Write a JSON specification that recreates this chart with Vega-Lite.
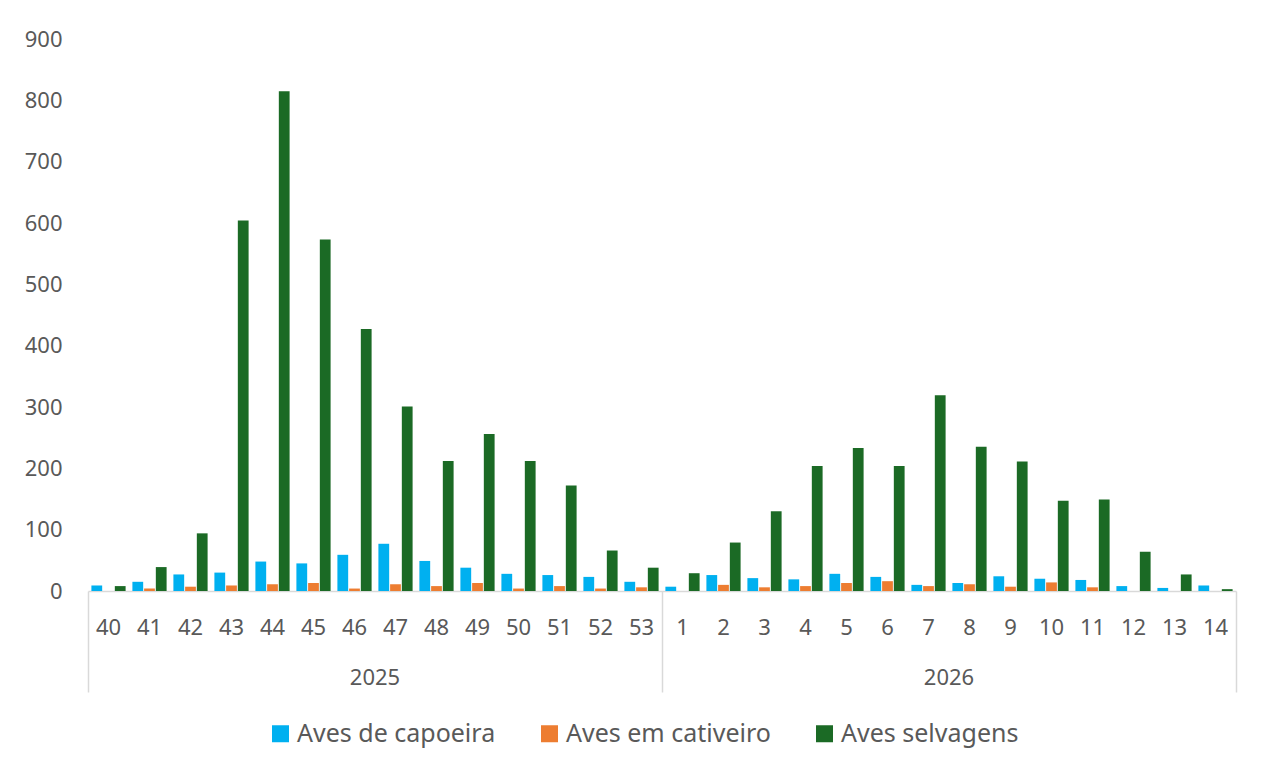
{
  "$schema": "https://vega.github.io/schema/vega-lite/v6.json",
  "width": 1148,
  "height": 552,
  "autosize": {"type": "none"},
  "padding": {"left": 88, "top": 39, "right": 25, "bottom": 176},
  "background": "white",
  "config": {
    "view": {"stroke": null},
    "font": "Noto Sans",
    "axis": {"labelFont": "Noto Sans", "labelColor": "#595959", "labelFontSize": 22, "grid": false, "title": null, "labelAngle": 0},
    "legend": {"labelFont": "Noto Sans"}
  },
  "data": {
    "values": [
      {"k": "2025-40", "Aves de capoeira": 9, "Aves em cativeiro": 0, "Aves selvagens": 8},
      {"k": "2025-41", "Aves de capoeira": 15, "Aves em cativeiro": 4, "Aves selvagens": 39},
      {"k": "2025-42", "Aves de capoeira": 27, "Aves em cativeiro": 7, "Aves selvagens": 94},
      {"k": "2025-43", "Aves de capoeira": 30, "Aves em cativeiro": 9, "Aves selvagens": 604},
      {"k": "2025-44", "Aves de capoeira": 48, "Aves em cativeiro": 11, "Aves selvagens": 815},
      {"k": "2025-45", "Aves de capoeira": 45, "Aves em cativeiro": 13, "Aves selvagens": 573},
      {"k": "2025-46", "Aves de capoeira": 59, "Aves em cativeiro": 4, "Aves selvagens": 427},
      {"k": "2025-47", "Aves de capoeira": 77, "Aves em cativeiro": 11, "Aves selvagens": 301},
      {"k": "2025-48", "Aves de capoeira": 49, "Aves em cativeiro": 8, "Aves selvagens": 212},
      {"k": "2025-49", "Aves de capoeira": 38, "Aves em cativeiro": 13, "Aves selvagens": 256},
      {"k": "2025-50", "Aves de capoeira": 28, "Aves em cativeiro": 4, "Aves selvagens": 212},
      {"k": "2025-51", "Aves de capoeira": 26, "Aves em cativeiro": 8, "Aves selvagens": 172},
      {"k": "2025-52", "Aves de capoeira": 23, "Aves em cativeiro": 4, "Aves selvagens": 66},
      {"k": "2025-53", "Aves de capoeira": 15, "Aves em cativeiro": 6, "Aves selvagens": 38},
      {"k": "2026-01", "Aves de capoeira": 7, "Aves em cativeiro": 0, "Aves selvagens": 29},
      {"k": "2026-02", "Aves de capoeira": 26, "Aves em cativeiro": 10, "Aves selvagens": 79},
      {"k": "2026-03", "Aves de capoeira": 21, "Aves em cativeiro": 6, "Aves selvagens": 130},
      {"k": "2026-04", "Aves de capoeira": 19, "Aves em cativeiro": 8, "Aves selvagens": 204},
      {"k": "2026-05", "Aves de capoeira": 28, "Aves em cativeiro": 13, "Aves selvagens": 233},
      {"k": "2026-06", "Aves de capoeira": 23, "Aves em cativeiro": 16, "Aves selvagens": 204},
      {"k": "2026-07", "Aves de capoeira": 10, "Aves em cativeiro": 8, "Aves selvagens": 319},
      {"k": "2026-08", "Aves de capoeira": 13, "Aves em cativeiro": 11, "Aves selvagens": 235},
      {"k": "2026-09", "Aves de capoeira": 24, "Aves em cativeiro": 7, "Aves selvagens": 211},
      {"k": "2026-10", "Aves de capoeira": 20, "Aves em cativeiro": 14, "Aves selvagens": 147},
      {"k": "2026-11", "Aves de capoeira": 18, "Aves em cativeiro": 6, "Aves selvagens": 149},
      {"k": "2026-12", "Aves de capoeira": 8, "Aves em cativeiro": 0, "Aves selvagens": 64},
      {"k": "2026-13", "Aves de capoeira": 5, "Aves em cativeiro": 0, "Aves selvagens": 27},
      {"k": "2026-14", "Aves de capoeira": 9, "Aves em cativeiro": 0, "Aves selvagens": 3}
    ]
  },
  "transform": [
    {"fold": ["Aves de capoeira", "Aves em cativeiro", "Aves selvagens"], "as": ["series", "value"]}
  ],
  "layer": [
    {
      "mark": {"type": "bar"},
      "encoding": {
        "x": {
          "field": "k", "type": "nominal", "sort": "ascending",
          "scale": {"paddingInner": 0, "paddingOuter": 0},
          "axis": {
            "orient": "bottom",
            "labelExpr": "'' + toNumber(split(datum.value, '-')[1])",
            "ticks": false,
            "domainColor": "#d9d9d9",
            "domainWidth": 1.5,
            "labelPadding": 26
          }
        },
        "y": {
          "field": "value", "type": "quantitative",
          "scale": {"domain": [0, 900]},
          "axis": {
            "values": [0, 100, 200, 300, 400, 500, 600, 700, 800, 900],
            "domain": false, "ticks": false, "labelPadding": 26
          }
        },
        "xOffset": {"field": "series", "type": "nominal", "scale": {"paddingInner": 0.08, "paddingOuter": 0.29}},
        "color": {
          "field": "series", "type": "nominal",
          "scale": {"domain": ["Aves de capoeira", "Aves em cativeiro", "Aves selvagens"], "range": ["#00B0F0", "#ED7D31", "#1B6A25"]},
          "legend": {
            "title": null, "orient": "none", "legendX": 180, "legendY": 682,
            "direction": "horizontal", "symbolType": "square", "symbolSize": 289,
            "labelFontSize": 25, "labelColor": "#595959", "columnPadding": 41,
            "symbolStrokeWidth": 0, "labelOffset": 4, "labelLimit": 400
          }
        }
      }
    },
    {
      "mark": {"type": "tick", "opacity": 0},
      "encoding": {
        "x": {
          "field": "k", "type": "nominal", "sort": "ascending",
          "axis": {
            "orient": "bottom", "values": ["2025-46", "2026-07"], "labelOffset": 20.5,
            "labelExpr": "substring(datum.value, 0, 4)",
            "ticks": false, "domain": false, "labelPadding": 76
          }
        }
      }
    },
    {
      "mark": {"type": "tick", "opacity": 0},
      "encoding": {
        "x": {
          "field": "k", "type": "nominal", "sort": "ascending",
          "axis": {
            "orient": "bottom", "values": ["2025-40", "2026-01"], "bandPosition": 0,
            "labels": false, "domain": false, "tickSize": 101, "tickColor": "#d9d9d9", "tickWidth": 1.5
          }
        }
      }
    },
    {
      "mark": {"type": "tick", "opacity": 0},
      "encoding": {
        "x": {
          "field": "k", "type": "nominal", "sort": "ascending",
          "axis": {
            "orient": "bottom", "values": ["2026-14"], "bandPosition": 1,
            "labels": false, "domain": false, "tickSize": 101, "tickColor": "#d9d9d9", "tickWidth": 1.5
          }
        }
      }
    }
  ],
  "resolve": {"axis": {"x": "independent"}}
}
